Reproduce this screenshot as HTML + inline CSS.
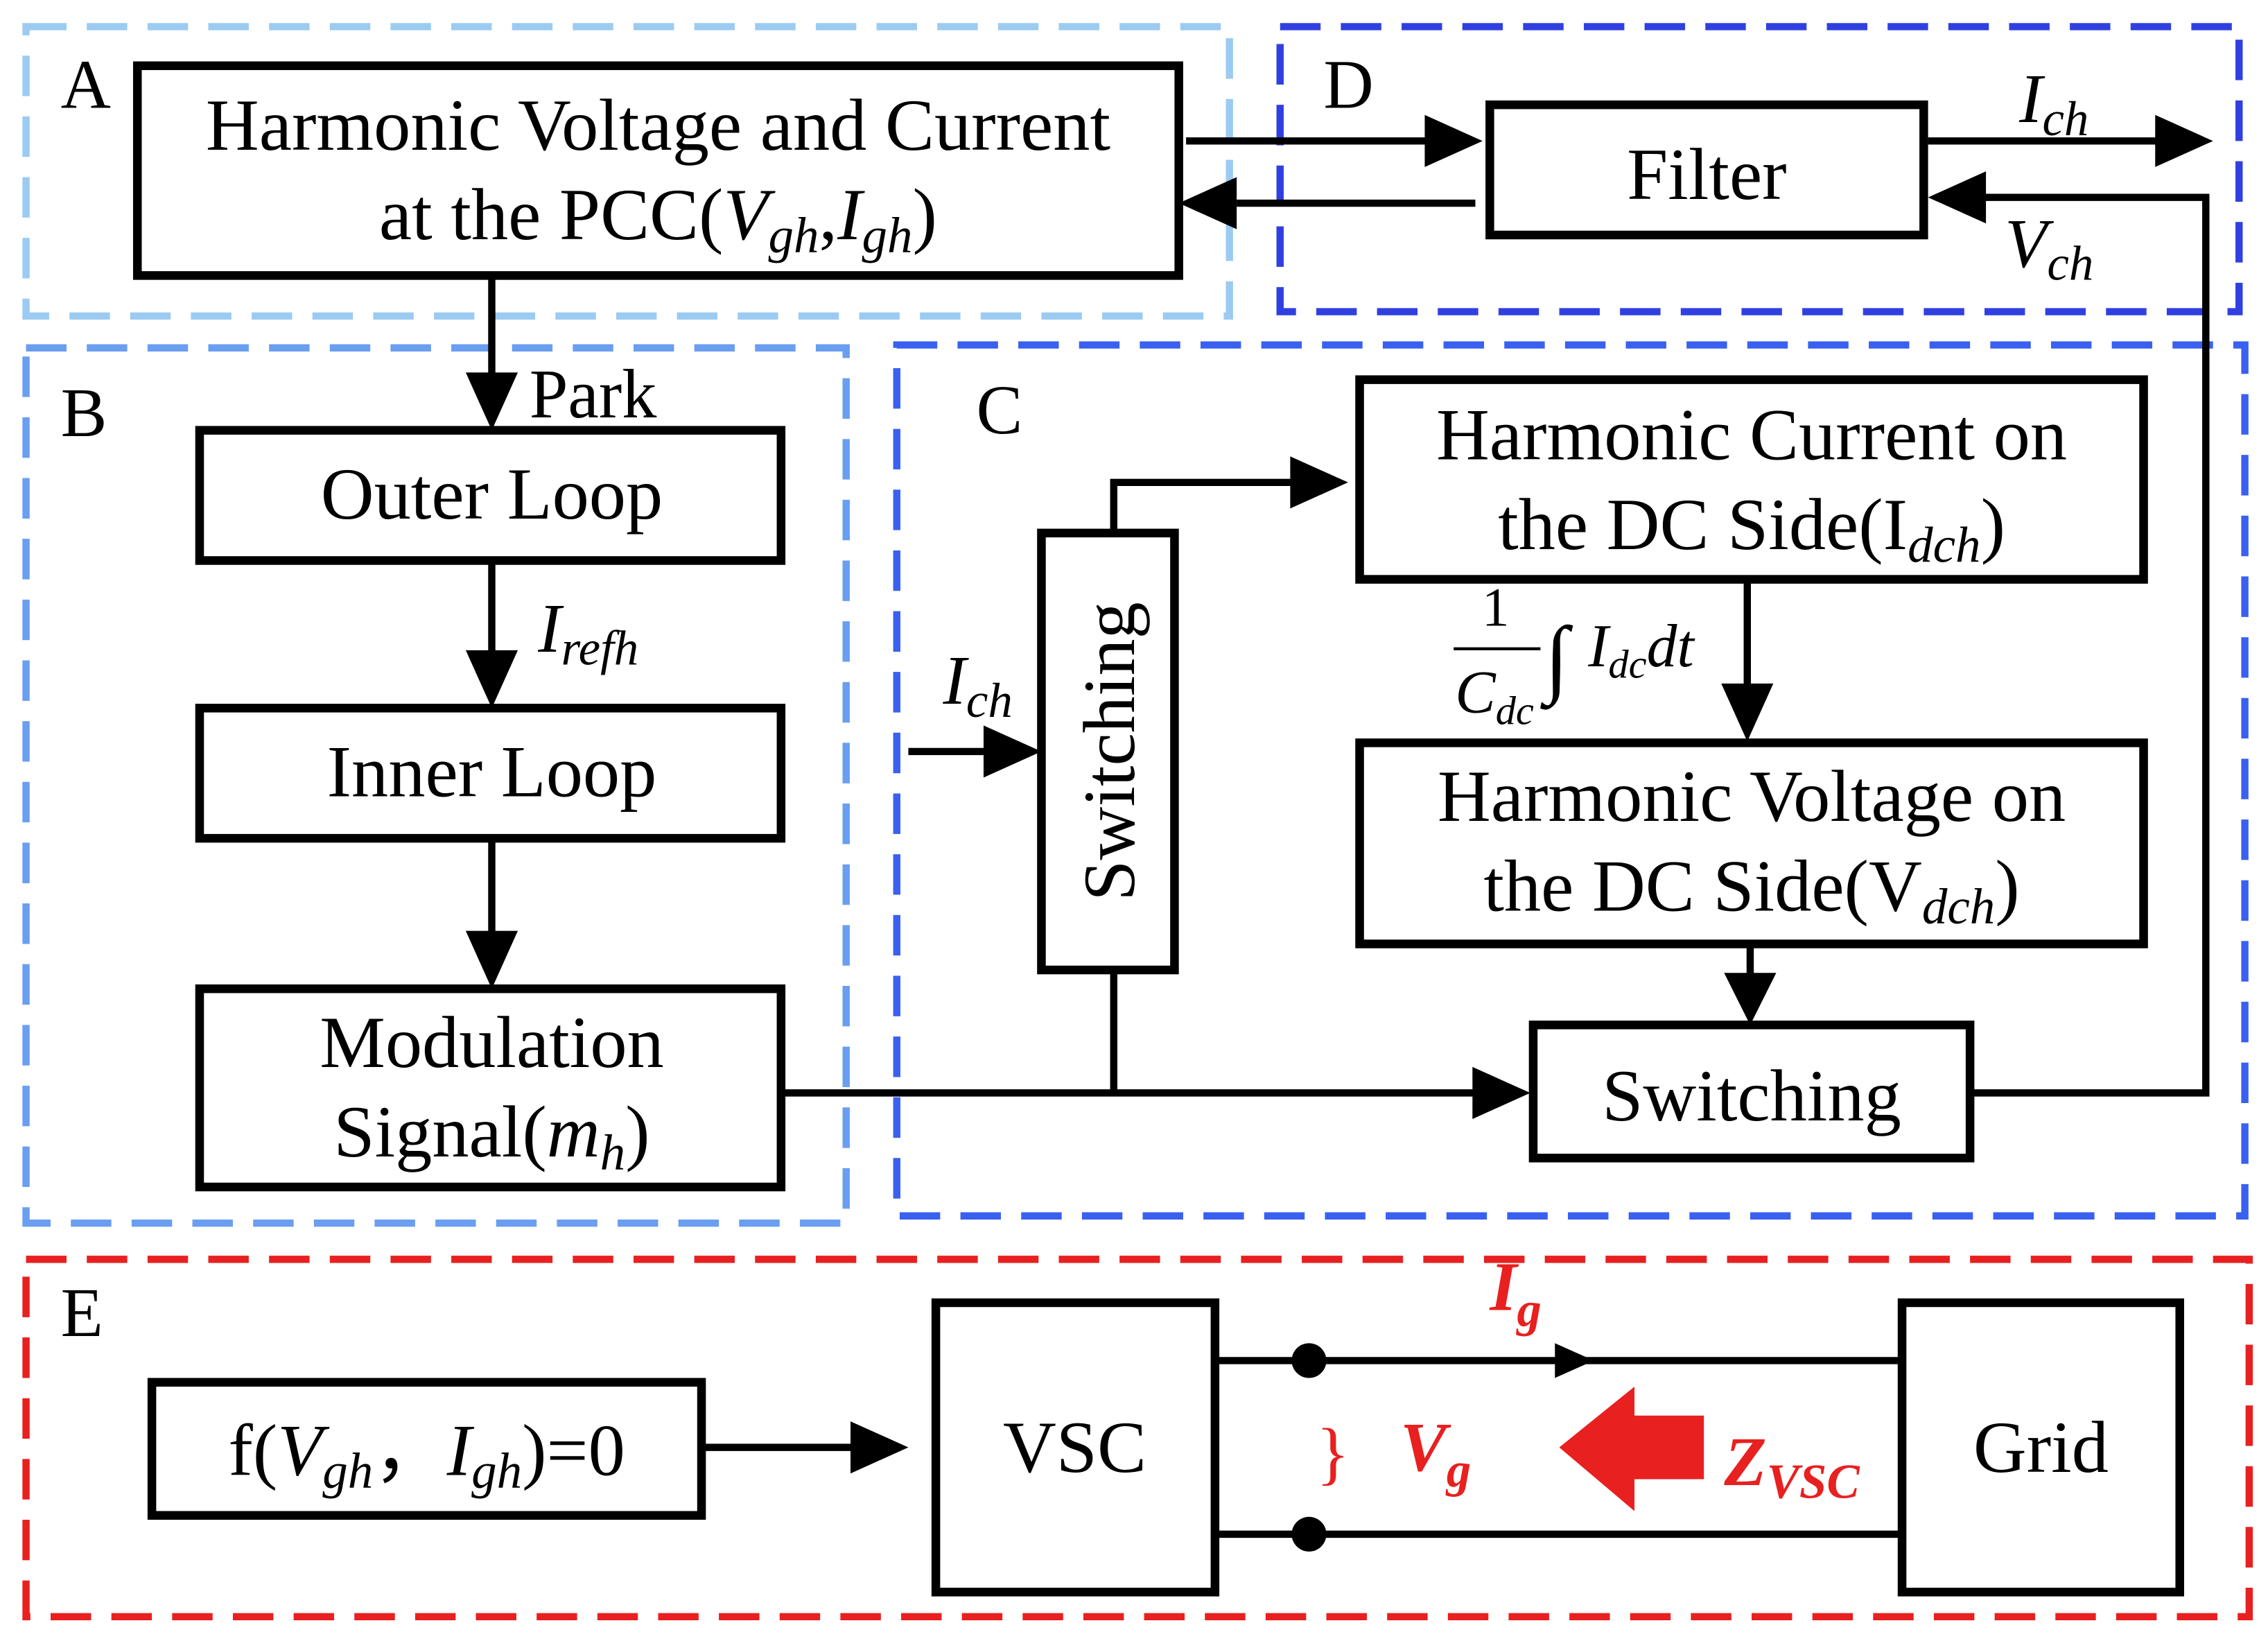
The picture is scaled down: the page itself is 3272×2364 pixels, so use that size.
<!DOCTYPE html>
<html><head><meta charset="utf-8"><style>
html,body{margin:0;padding:0;background:#fff;}
svg{display:block;}
text{font-family:"Liberation Serif",serif;fill:#000;}
</style></head><body>
<svg width="3272" height="2364" viewBox="0 0 1568 1132" xmlns="http://www.w3.org/2000/svg">
<rect width="1568" height="1132" fill="#fff"/>
<g fill="none" stroke-width="5" stroke-dasharray="28 14">
<rect x="18" y="18" width="832" height="200" stroke="#9ccbf2"/>
<rect x="885" y="18" width="663" height="197" stroke="#3040e0"/>
<rect x="18" y="240" width="567" height="605" stroke="#6a9ef0"/>
<rect x="620" y="238" width="932" height="602" stroke="#3a60f0"/>
<rect x="18" y="870" width="1537" height="247" stroke="#e82020"/>
</g>
<g fill="none" stroke="#000" stroke-width="6">
<rect x="95" y="45" width="720" height="145"/>
<rect x="1030" y="72" width="300" height="90"/>
<rect x="138" y="297" width="402" height="90"/>
<rect x="138" y="489" width="402" height="90"/>
<rect x="138" y="683" width="402" height="137"/>
<rect x="720" y="368" width="92" height="302"/>
<rect x="940" y="262" width="542" height="138"/>
<rect x="940" y="513" width="542" height="139"/>
<rect x="1060" y="708" width="302" height="92"/>
<rect x="105" y="955" width="380" height="92"/>
<rect x="647" y="900" width="193" height="200"/>
<rect x="1315" y="900" width="192" height="200"/>
</g>
<g fill="none" stroke="#000" stroke-width="5">
<path d="M820 97H990"/>
<path d="M1020 140H855"/>
<path d="M1333 97H1495"/>
<path d="M1362 755H1525V136H1368"/>
<path d="M340 190V262"/>
<path d="M340 387V452"/>
<path d="M340 579V645"/>
<path d="M540 755H1020"/>
<path d="M770 755V670"/>
<path d="M770 368V333H895"/>
<path d="M628 519H685"/>
<path d="M1208 400V475"/>
<path d="M1210 652V675"/>
<path d="M485 1000H592"/>
<path d="M840 940H1315"/>
<path d="M840 1060H1315"/>
</g>
<g fill="#000">
<polygon points="1025,97 985,79 985,115"/>
<polygon points="815,140 855,122 855,158"/>
<polygon points="1530,97 1490,79 1490,115"/>
<polygon points="1333,136 1373,118 1373,154"/>
<polygon points="340,297 322,257 358,257"/>
<polygon points="340,489 322,449 358,449"/>
<polygon points="340,683 322,643 358,643"/>
<polygon points="1058,755 1018,737 1018,773"/>
<polygon points="932,333 892,315 892,351"/>
<polygon points="720,519 680,501 680,537"/>
<polygon points="1208,512 1190,472 1226,472"/>
<polygon points="1210,708 1192,672 1228,672"/>
<polygon points="628,1000 588,982 588,1018"/>
<polygon points="1102,940 1075,928 1075,952"/>
<circle cx="905" cy="940" r="12"/>
<circle cx="905" cy="1060" r="12"/>
</g>
<polygon points="1078,1000 1130,958 1130,978 1178,978 1178,1022 1130,1022 1130,1044" fill="#e82020"/>
<g font-size="51" text-anchor="middle">
<text x="455" y="103">Harmonic Voltage and Current</text>
<text x="455" y="165">at the PCC(<tspan font-style="italic">V</tspan><tspan font-style="italic" font-size="35" dy="9">gh</tspan><tspan dy="-9">,</tspan><tspan font-style="italic">I</tspan><tspan font-style="italic" font-size="35" dy="9">gh</tspan><tspan dy="-9">)</tspan></text>
<text x="1180" y="137">Filter</text>
<text x="340" y="358">Outer Loop</text>
<text x="340" y="550">Inner Loop</text>
<text x="340" y="737">Modulation</text>
<text x="340" y="799">Signal(<tspan font-style="italic">m</tspan><tspan font-style="italic" font-size="35" dy="9">h</tspan><tspan dy="-9">)</tspan></text>
<text x="0" y="0" transform="translate(784,519) rotate(-90)">Switching</text>
<text x="1211" y="317">Harmonic Current on</text>
<text x="1211" y="379">the DC Side(I<tspan font-style="italic" font-size="35" dy="9">dch</tspan><tspan dy="-9">)</tspan></text>
<text x="1211" y="567">Harmonic Voltage on</text>
<text x="1211" y="629">the DC Side(V<tspan font-style="italic" font-size="35" dy="9">dch</tspan><tspan dy="-9">)</tspan></text>
<text x="1211" y="774">Switching</text>
<text x="295" y="1019">f(<tspan font-style="italic">V</tspan><tspan font-style="italic" font-size="35" dy="9">gh</tspan><tspan dy="-9">，</tspan><tspan font-style="italic">I</tspan><tspan font-style="italic" font-size="35" dy="9">gh</tspan><tspan dy="-9">)=0</tspan></text>
<text x="743" y="1017">VSC</text>
<text x="1411" y="1017">Grid</text>
</g>
<g font-size="48">
<text x="42" y="74">A</text>
<text x="915" y="74">D</text>
<text x="42" y="301">B</text>
<text x="675" y="299">C</text>
<text x="42" y="923">E</text>
<text x="366" y="288">Park</text>
</g>
<g font-size="48" font-style="italic">
<text x="1396" y="84">I<tspan font-size="34" dy="9">ch</tspan></text>
<text x="1386" y="184">V<tspan font-size="34" dy="9">ch</tspan></text>
<text x="372" y="450">I<tspan font-size="34" dy="9">refh</tspan></text>
<text x="652" y="486">I<tspan font-size="34" dy="9">ch</tspan></text>
</g>
<g font-style="italic">
<text x="1034" y="432" font-size="38" font-style="normal" text-anchor="middle">1</text>
<line x1="1005" y1="448" x2="1065" y2="448" stroke="#000" stroke-width="2"/>
<text x="1006" y="492" font-size="42">C<tspan font-size="28" dy="8">dc</tspan></text>
<text x="1068" y="474" font-size="60" font-style="normal">∫</text>
<text x="1098" y="460" font-size="42">I<tspan font-size="28" dy="8">dc</tspan><tspan font-size="42" dy="-8">dt</tspan></text>
</g>
<g font-weight="bold" font-style="italic" font-size="48">
<text x="1030" y="905" style="fill:#e82020">I<tspan font-size="34" dy="11">g</tspan></text>
<text x="968" y="1016" style="fill:#e82020">V<tspan font-size="34" dy="11">g</tspan></text>
<text x="1192" y="1026" style="fill:#e82020">Z<tspan font-size="34" dy="9">VSC</tspan></text>
<text x="910" y="1020" font-weight="normal" font-style="normal" style="fill:#e82020">}</text>
</g>
</svg>
</body></html>
